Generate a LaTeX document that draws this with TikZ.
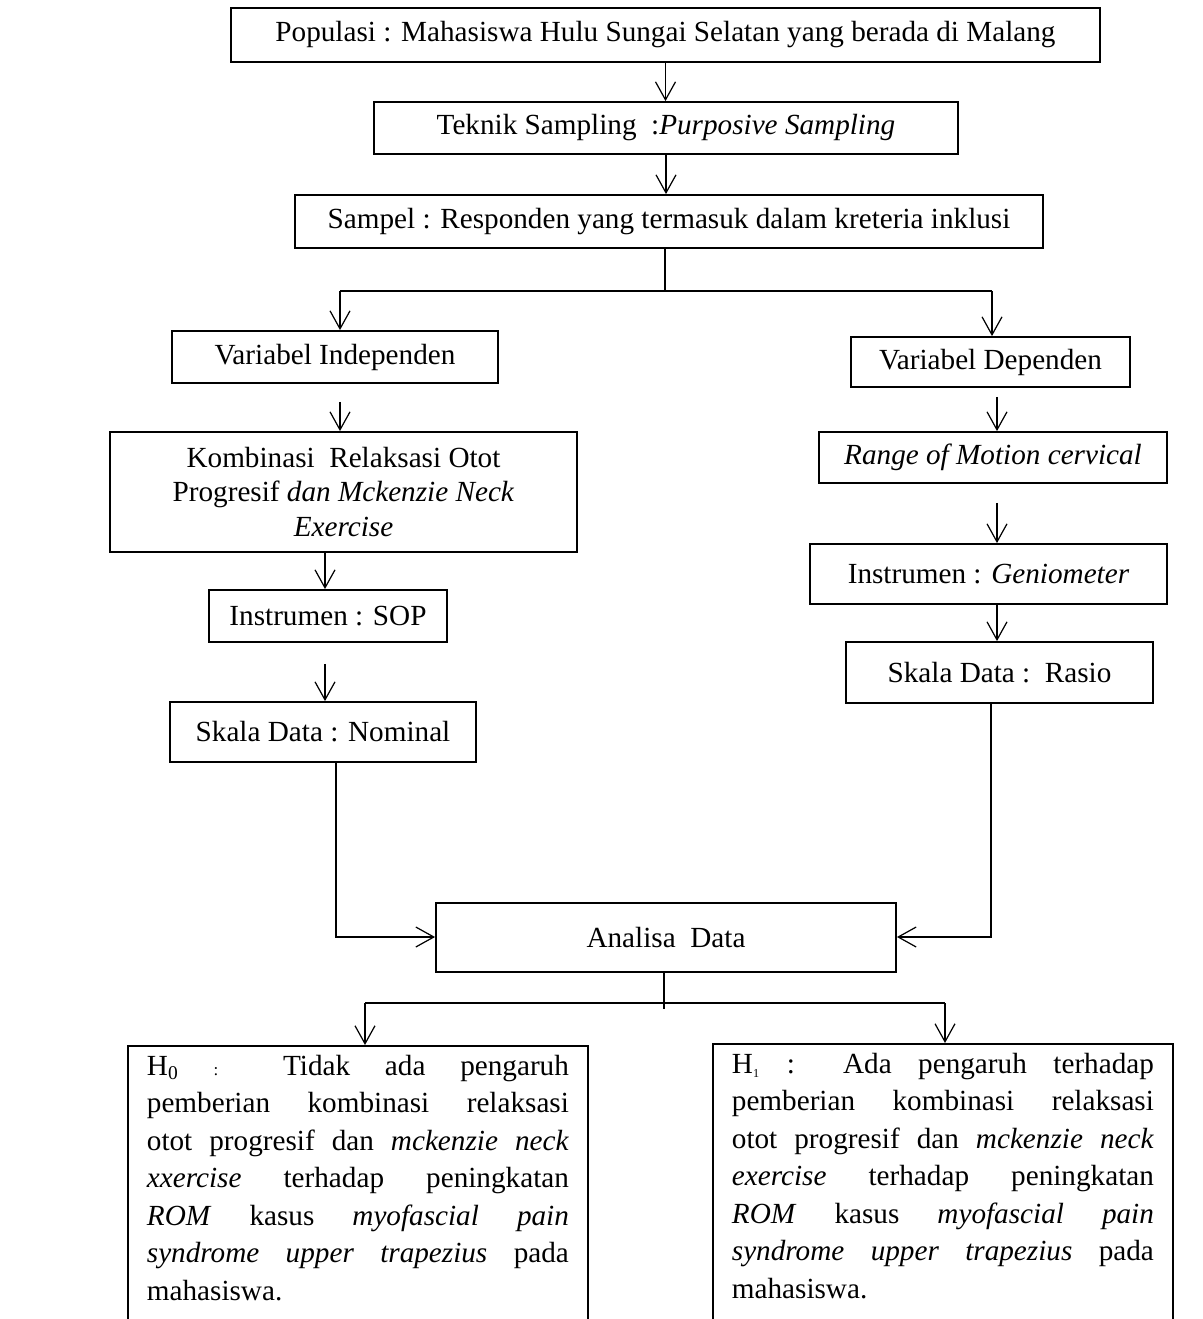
\documentclass[tikz,border=0pt]{standalone}
\usepackage{fontspec}
\setmainfont{Liberation Serif}
\usetikzlibrary{arrows.meta, calc}

\tikzset{
  kotak/.style={draw, line width=0.75pt, inner sep=0pt, align=center},
  panah/.style={-{Straight Barb[length=7.4pt, width=8.2pt]}, line width=0.5pt},
  garis/.style={line width=0.5pt},
  hipotesis/.style={kotak, anchor=north west, text width=422*0.411pt, inner xsep=19*0.411pt, inner ysep=3.7pt, align=justify},
}

\begin{document}
\begin{tikzpicture}[x=0.411pt, y=-0.411pt, every node/.style={font=\fontsize{12}{15.4}\selectfont}]
    \useasboundingbox (0,0) rectangle (1203,1319);
    \def\u{0.411pt}

    % Populasi dan sampel
    \node[kotak, minimum width=869*\u, minimum height=54*\u] (pop) at (665.5,35) {Populasi : Mahasiswa Hulu Sungai Selatan yang berada di Malang};
    \node[kotak, minimum width=584*\u, minimum height=52*\u] (tek) at (666,128) {Teknik Sampling\ \ :\textit{Purposive Sampling}};
    \node[kotak, minimum width=748*\u, minimum height=53*\u] (sam) at (669,221.5) {Sampel : Responden yang termasuk dalam kreteria inklusi};

    % Variabel independen
    \node[kotak, minimum width=326*\u, minimum height=52*\u] (vi) at (335,357) {Variabel Independen};
    \node[kotak, minimum width=467*\u, minimum height=120*\u, font=\fontsize{12}{14}\selectfont] (kom) at (343.5,492) {Kombinasi\ \ Relaksasi Otot\\Progresif \textit{dan Mckenzie Neck}\\\textit{Exercise}};
    \node[kotak, minimum width=238*\u, minimum height=52*\u] (sop) at (328,616) {Instrumen : SOP};
    \node[kotak, minimum width=306*\u, minimum height=60*\u] (nom) at (323,732) {Skala Data : Nominal};

    % Variabel dependen
    \node[kotak, minimum width=279*\u, minimum height=50*\u] (vd) at (990.5,362) {Variabel Dependen};
    \node[kotak, minimum width=348*\u, minimum height=51*\u] (rom) at (993,457.5) {\textit{Range of Motion cervical}};
    \node[kotak, minimum width=357*\u, minimum height=60*\u] (gen) at (988.5,574) {Instrumen : \textit{Geniometer}};
    \node[kotak, minimum width=307*\u, minimum height=61*\u] (ras) at (999.5,672.5) {Skala Data :\ \ Rasio};

    % Analisa dan hipotesis
    \node[kotak, minimum width=460*\u, minimum height=69*\u] (ana) at (666,937.5) {Analisa\ \ Data};
    \node[hipotesis] (h0) at (127,1045) {\tolerance=10000 H\textsubscript{0} {\scriptsize:} Tidak ada pengaruh\linebreak pemberian kombinasi relaksasi\linebreak otot progresif dan \textit{mckenzie neck}\linebreak \textit{xxercise} terhadap peningkatan\linebreak \textit{ROM} kasus \textit{myofascial pain}\linebreak \textit{syndrome upper trapezius} pada\linebreak mahasiswa.\rule[-40pt]{0pt}{0pt}};
    \node[hipotesis] (h1) at (712,1043) {\tolerance=10000 H\textsubscript{\tiny 1} : Ada pengaruh terhadap\linebreak pemberian kombinasi relaksasi\linebreak otot progresif dan \textit{mckenzie neck}\linebreak \textit{exercise} terhadap peningkatan\linebreak \textit{ROM} kasus \textit{myofascial pain}\linebreak \textit{syndrome upper trapezius} pada\linebreak mahasiswa.\rule[-40pt]{0pt}{0pt}};

    % Panah atas
    \draw[panah] (pop.south) -- (pop.south |- tek.north);
    \draw[panah] (tek.south) -- (tek.south |- sam.north);

    % Percabangan ke dua variabel
    \coordinate (cab) at (665,291);
    \coordinate (cabL) at (340,291);
    \coordinate (cabR) at (992,291);
    \draw[garis] (sam.south -| cab) -- (cab);
    \draw[garis] (cabL) -- (cabR);
    \draw[panah] (cabL) -- (cabL |- vi.north);
    \draw[panah] (cabR) -- (cabR |- vd.north);

    % Kolom kiri
    \coordinate (kiri) at (325,0);
    \draw[panah] ($(cabL |- vi.south)+(0,18)$) -- (cabL |- kom.north);
    \draw[panah] (kiri |- kom.south) -- (kiri |- sop.north);
    \draw[panah] ($(kiri |- sop.south)+(0,21)$) -- (kiri |- nom.north);
    \coordinate (masukL) at (336,937);
    \draw[panah] (masukL |- nom.south) -- (masukL) -- (masukL -| ana.west);

    % Kolom kanan
    \coordinate (kanan) at (997,0);
    \draw[panah] ($(kanan |- vd.south)+(0,9)$) -- (kanan |- rom.north);
    \draw[panah] ($(kanan |- rom.south)+(0,19)$) -- (kanan |- gen.north);
    \draw[panah] (kanan |- gen.south) -- (kanan |- ras.north);
    \coordinate (masukR) at (991,937);
    \draw[panah] (masukR |- ras.south) -- (masukR) -- (masukR -| ana.east);

    % Percabangan ke hipotesis
    \coordinate (cab2) at (664,1003);
    \coordinate (cab2L) at (365,1003);
    \coordinate (cab2R) at (945,1003);
    \draw[garis] (ana.south -| cab2) -- ($(cab2)+(0,6)$);
    \draw[garis] (cab2L) -- (cab2R);
    \draw[panah] (cab2L) -- (cab2L |- h0.north);
    \draw[panah] (cab2R) -- (cab2R |- h1.north);
\end{tikzpicture}
\end{document}
